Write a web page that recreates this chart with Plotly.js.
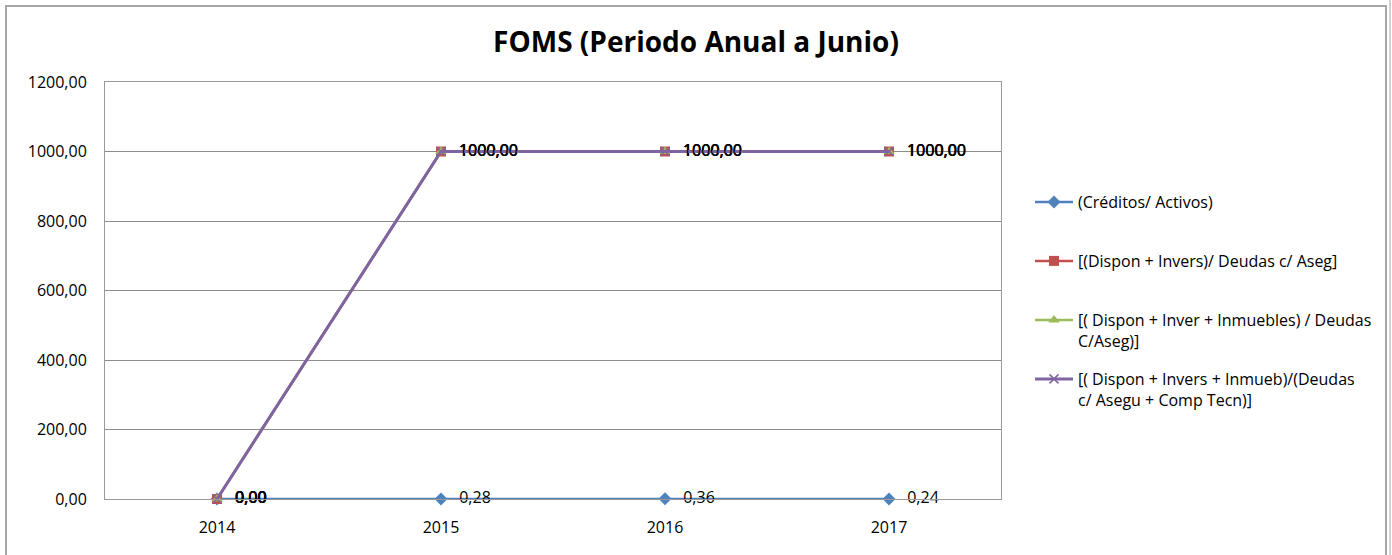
<!DOCTYPE html>
<html>
<head>
<meta charset="utf-8">
<script src="https://cdn.plot.ly/plotly-3.0.1.min.js"></script>
<style>html,body{margin:0;padding:0;background:#fff;}#chart{width:1392px;height:555px;}</style>
</head>
<body>
<div id="chart"></div>
<script>
const years = ['2014', '2015', '2016', '2017'];
const creditosActivos = [0, 0.28, 0.36, 0.24];
const disponInvers = [0, 1000, 1000, 1000];
const disponInverInmuebles = [0, 1000, 1000, 1000];
const disponInversInmuebComp = [0, 1000, 1000, 1000];
const seriesNames = [
  '(Créditos/ Activos)',
  '[(Dispon + Invers)/ Deudas c/ Aseg]',
  '[( Dispon + Inver + Inmuebles) / Deudas<br>C/Aseg)]',
  '[( Dispon + Invers + Inmueb)/(Deudas<br>c/ Asegu + Comp Tecn)]'
];
const yTicks = [0, 200, 400, 600, 800, 1000, 1200];

const FONT = 'Open Sans, Noto Sans, sans-serif';
const colors = ['#4F81BD', '#C0504D', '#9BBB59', '#8064A2'];
const symbols = ['diamond', 'square', 'triangle-up', 'x-thin'];
const data = [creditosActivos, disponInvers, disponInverInmuebles, disponInversInmuebComp];

const traces = data.map((vals, i) => ({
  type: 'scatter',
  mode: 'lines+markers+text',
  x: years,
  y: vals,
  name: seriesNames[i],
  legend: i === 0 ? 'legend' : 'legend' + (i + 1),
  line: {color: colors[i], width: i === 3 ? 3 : 2.5},
  marker: {
    color: colors[i],
    symbol: symbols[i],
    size: i === 3 ? 9 : 10,
    line: i === 3 ? {color: colors[i], width: 1.5} : {width: 0}
  },
  texttemplate: '\u00a0\u00a0\u2009%{y:.2f}',
  textposition: 'middle right',
  textfont: {family: FONT, size: 16, color: '#000'},
  cliponaxis: false,
  hoverinfo: 'skip'
}));

function px2x(p) { return (p - 105) / 896; }
function px2y(p) { return (499 - p) / 417; }

const legendBase = {
  xanchor: 'left', yanchor: 'top', x: px2x(1030),
  font: {family: FONT, size: 16, color: '#000'},
  bgcolor: 'rgba(0,0,0,0)', borderwidth: 0, valign: 'top',
  itemwidth: 38, tracegroupgap: 0
};
const legendTops = [185, 244, 303, 362];

const layout = {
  width: 1392, height: 555,
  margin: {l: 105, r: 391, t: 82, b: 56},
  paper_bgcolor: '#fff', plot_bgcolor: '#fff',
  separators: ',.',
  font: {family: FONT, size: 16, color: '#000'},
  title: {
    text: '<b>FOMS (Periodo Anual a Junio)</b>',
    font: {family: FONT, size: 28, color: '#000'},
    x: 0.5, xref: 'container', xanchor: 'center',
    y: 1 - 42 / 555, yref: 'container', yanchor: 'middle'
  },
  xaxis: {
    type: 'category', range: [-0.5, 3.5],
    showgrid: false, zeroline: false,
    showline: true, linecolor: '#9a9a9a', linewidth: 1, mirror: true,
    ticks: '', tickfont: {family: FONT, size: 16, color: '#000'},
    ticklabelstandoff: 14
  },
  yaxis: {
    range: [0, 1200], tickvals: yTicks, tickformat: '.2f',
    showgrid: true, gridcolor: '#8c8c8c', gridwidth: 1,
    zeroline: false,
    showline: true, linecolor: '#9a9a9a', linewidth: 1, mirror: true,
    ticks: '', tickfont: {family: FONT, size: 16, color: '#000'},
    ticklabelstandoff: 14
  },
  showlegend: true,
  legend: Object.assign({}, legendBase, {y: px2y(legendTops[0])}),
  legend2: Object.assign({}, legendBase, {y: px2y(legendTops[1])}),
  legend3: Object.assign({}, legendBase, {y: px2y(legendTops[2])}),
  legend4: Object.assign({}, legendBase, {y: px2y(legendTops[3])}),
  shapes: [
    {type: 'rect', xref: 'paper', yref: 'paper',
     x0: px2x(6), x1: px2x(1386), y0: px2y(6), y1: px2y(570),
     line: {color: '#a6a6a6', width: 2}, fillcolor: 'rgba(0,0,0,0)', layer: 'below'},
    {type: 'line', xref: 'paper', yref: 'paper',
     x0: px2x(1390), x1: px2x(1390), y0: px2y(0), y1: px2y(570),
     line: {color: '#a6a6a6', width: 1}}
  ]
};

Plotly.newPlot('chart', traces, layout, {staticPlot: true, displayModeBar: false});
</script>
</body>
</html>
